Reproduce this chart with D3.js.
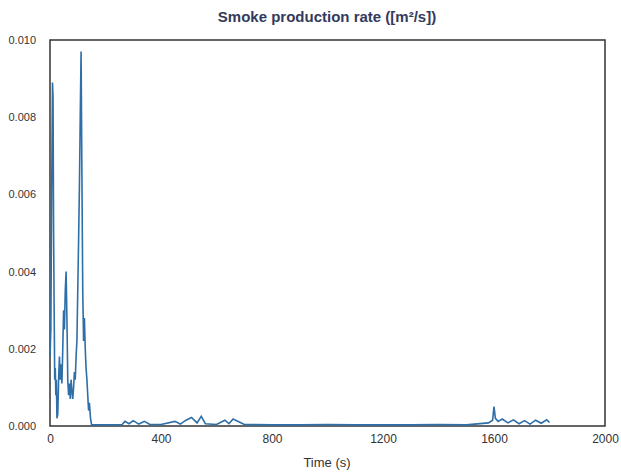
<!DOCTYPE html>
<html><head><meta charset="utf-8">
<script src="https://cdn.jsdelivr.net/npm/d3@7"></script>
<style>body{margin:0;background:#fff}text{font-family:"Liberation Sans",Arial,sans-serif}</style>
</head><body><svg width="621" height="474"></svg>
<script>
const times = [0,3,6,9,11,13,15,17,19,21,23,25,28,31,34,37,40,43,46,49,52,55,58,61,64,67,70,73,76,79,82,85,88,91,94,97,100,103,106,109,112,115,118,121,124,127,130,133,136,139,142,146,150,
  200,260,270,285,300,320,340,360,400,450,470,490,510,530,545,560,600,630,645,660,700,800,900,1000,1100,1200,1300,1400,1500,1580,1595,1600,1605,1615,1630,1650,1670,1690,1710,1730,1750,1770,1790,1800];
const values = [0.0018,0.0025,0.0060,0.0089,0.0085,0.0050,0.0030,0.0012,0.0015,0.0008,0.0012,0.0002,0.0003,0.0012,0.0018,0.0012,0.0016,0.0011,0.0020,0.0030,0.0025,0.0035,0.0040,0.0028,0.0012,0.0008,0.0011,0.0007,0.0012,0.0009,0.0007,0.0010,0.0014,0.0012,0.0018,0.0022,0.0035,0.0048,0.0062,0.0080,0.0097,0.0065,0.0035,0.0022,0.0028,0.0020,0.0015,0.0012,0.0008,0.0004,0.0006,0.0002,0.00003,
  0.00003,0.00004,0.00012,0.00006,0.00014,0.00005,0.00012,0.00004,0.00004,0.00012,0.00005,0.00015,0.00022,0.00008,0.00025,0.00006,0.00004,0.00015,0.00006,0.00018,0.00004,0.00003,0.00003,0.00004,0.00003,0.00003,0.00003,0.00004,0.00003,0.00008,0.00015,0.0005,0.0002,0.00012,0.00018,0.00008,0.00016,0.00006,0.00014,0.00005,0.00015,0.00007,0.00016,0.00009,0.00003];
const xTicks = [0,400,800,1200,1600,2000];
const yTicks = [0,0.002,0.004,0.006,0.008,0.010];

const svg = d3.select("svg");
const L = 50, R = 605, T = 40, B = 426;
const x = d3.scaleLinear().domain([0,2000]).range([L,R]);
const y = d3.scaleLinear().domain([0,0.010]).range([B,T]);

svg.append("rect").attr("x",L).attr("y",T).attr("width",R-L).attr("height",B-T)
  .attr("fill","none").attr("stroke","#333").attr("stroke-width",1.5);

const data = times.map((t,i)=>[t,values[i]]);
svg.append("path").datum(data).attr("fill","none").attr("stroke","#2e6fa8").attr("stroke-width",1.6)
  .attr("d", d3.line().x(d=>x(d[0])).y(d=>y(d[1])));

svg.append("g").attr("transform",`translate(0,${B})`)
  .call(d3.axisBottom(x).tickValues(xTicks).tickFormat(d3.format("d")).tickSize(0).tickPadding(8))
  .call(g=>g.select(".domain").remove())
  .selectAll("text").attr("font-size",12).attr("fill","#333");
svg.append("g").attr("transform",`translate(36,0)`)
  .call(d3.axisLeft(y).tickValues(yTicks).tickFormat(d3.format(".3f")).tickSize(0).tickPadding(0))
  .call(g=>g.select(".domain").remove())
  .selectAll("text").attr("font-size",11).attr("fill","#333");

svg.append("text").attr("x",327).attr("y",22).attr("text-anchor","middle")
  .attr("font-size",15).attr("font-weight","bold").attr("fill","#333a5c").text("Smoke production rate ([m²/s])");
svg.append("text").attr("x",327).attr("y",467).attr("text-anchor","middle")
  .attr("font-size",13).attr("fill","#333").text("Time (s)");
</script></body></html>
